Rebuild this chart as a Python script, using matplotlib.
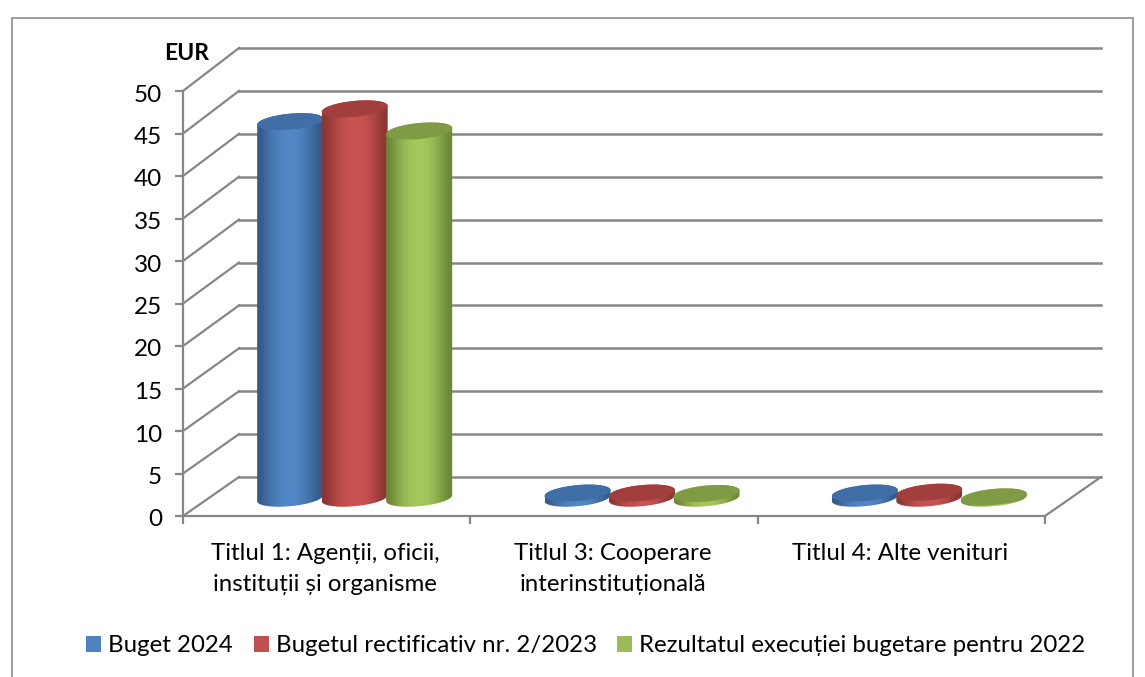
import numpy as np
import matplotlib
matplotlib.use("Agg")
import matplotlib.pyplot as plt
from matplotlib.colors import LinearSegmentedColormap
from matplotlib.patches import Patch, Polygon, Rectangle
from matplotlib.transforms import ScaledTranslation

categories = ["Titlul 1: Agenții, oficii,\ninstituții și organisme",
              "Titlul 3: Cooperare\ninterinstituțională",
              "Titlul 4: Alte venituri"]
series_names = ["Buget 2024", "Bugetul rectificativ nr. 2/2023",
                "Rezultatul execuției bugetare pentru 2022"]
buget_2024 = [44.3, 0.6, 0.6]
buget_rect = [45.8, 0.6, 0.7]
rezultat_2022 = [43.2, 0.55, 0.15]
y_ticks = [0, 5, 10, 15, 20, 25, 30, 35, 40, 45, 50]

# edge, centre, top face
BLUE = ("#34598a", "#5188c6", "#3f6fa6")
RED = ("#8a3533", "#c95351", "#a23f3d")
GREEN = ("#6b8636", "#a5c85d", "#7f9c45")
LEGEND_COLORS = ["#4f81bd", "#c0504d", "#9bbb59"]
GRID = "#868686"
W, H = 1145, 677

plt.rcParams["font.family"] = ["Lato", "DejaVu Sans"]

fig = plt.figure(figsize=(W / 100, H / 100), dpi=100)
fig.add_artist(Rectangle((12 / W, -0.01), 1121 / W, 1 - 18 / H + 0.01, transform=fig.transFigure,
                         fill=False, edgecolor="#8c8c8c", lw=1.2))

# the axes is the front plane of the 3D box
ax = fig.add_axes([183 / W, 1 - 516 / H, 862 / W, 425 / H])
ax.set_xlim(0, 3)
ax.set_ylim(0, 50)
ax.patch.set_visible(False)
for side in ["top", "right"]:
    ax.spines[side].set_visible(False)
for side in ["left", "bottom"]:
    ax.spines[side].set_color(GRID)
    ax.spines[side].set_linewidth(1.6)

ax.set_yticks(y_ticks)
ax.set_xticks([0, 1, 2, 3])
ax.set_xticklabels([])
ax.tick_params(axis="both", color=GRID, width=1.6, length=6)
ax.tick_params(axis="y", labelsize=17.5, pad=9, labelcolor="black")
nudge = ScaledTranslation(0, -2 / 100, fig.dpi_scale_trans)
for tick_label in ax.get_yticklabels():
    tick_label.set_transform(tick_label.get_transform() + nudge)

# depth of the box, as data units
depth_x = 56 / (862 / 3)
depth_y = 39 / 8.5
slope = 429 / 425

for v in y_ticks:
    back_y = v * slope + depth_y
    ax.plot([0, depth_x], [v, back_y], color=GRID, lw=1.6, clip_on=False, zorder=1)
    ax.plot([depth_x, 3 + depth_x], [back_y, back_y], color=GRID, lw=1.8, clip_on=False, zorder=1)
ax.plot([3, 3 + depth_x], [0, depth_y], color=GRID, lw=1.6, clip_on=False, zorder=1)

for i, label in enumerate(categories):
    ax.text(i + 0.495, -3.2, label, ha="center", va="top", fontsize=17.3, linespacing=1.55)
ax.text(0.09, 54.4, "EUR", ha="right", va="center", fontsize=16.5, fontweight="bold")

bar_w = 66 / (862 / 3)
bar_step = 64.5 / (862 / 3)
rx = bar_w / 2
ry = 8 / 8.5
shear = 3 / 8.5
base_y = depth_y / 2 - 0.2


def arc(cx, cy, t):
    return np.column_stack([cx + rx * np.cos(t), cy + ry * np.sin(t) + shear * np.cos(t)])


def cylinder(cx, value, colors, z):
    top_y = base_y + value
    lower = np.linspace(np.pi, 2 * np.pi, 60)
    upper = np.linspace(0, np.pi, 60)
    body = np.vstack([arc(cx, base_y, lower), arc(cx, top_y, upper)])
    cmap = LinearSegmentedColormap.from_list("c", [colors[0], colors[1]])
    grad = np.array([[0.0, 0.55, 0.85, 1.0, 1.0, 0.85, 0.45, 0.0]])
    img = ax.imshow(grad, cmap=cmap, vmin=0, vmax=1, aspect="auto", interpolation="bicubic",
                    extent=(cx - rx, cx + rx, base_y - ry - shear, top_y + ry + shear),
                    zorder=z, clip_on=True)
    clip = Polygon(body, closed=True, transform=ax.transData)
    img.set_clip_path(clip)
    top = arc(cx, top_y, np.linspace(0, 2 * np.pi, 120))
    ax.add_patch(Polygon(top, closed=True, facecolor=colors[2], edgecolor="none", zorder=z + 0.5))


all_series = [buget_2024, buget_rect, rezultat_2022]
all_colors = [BLUE, RED, GREEN]
for i in range(len(categories)):
    centre = i + 0.5 + depth_x / 2
    for j, (vals, colors) in enumerate(zip(all_series, all_colors)):
        cylinder(centre + (j - 1) * bar_step, vals[i], colors, 3 + j + i * 5)
ax.set_xlim(0, 3)
ax.set_ylim(0, 50)

handles = [Patch(facecolor=col, edgecolor="none") for col in LEGEND_COLORS]
fig.legend(handles, series_names, loc="center", bbox_to_anchor=(586 / W, 1 - 646 / H), ncols=3,
           frameon=False, fontsize=17.3, handlelength=0.62, handleheight=0.62, handletextpad=0.3,
           columnspacing=0.85, borderpad=0)

fig.savefig("out.png", dpi=100)
